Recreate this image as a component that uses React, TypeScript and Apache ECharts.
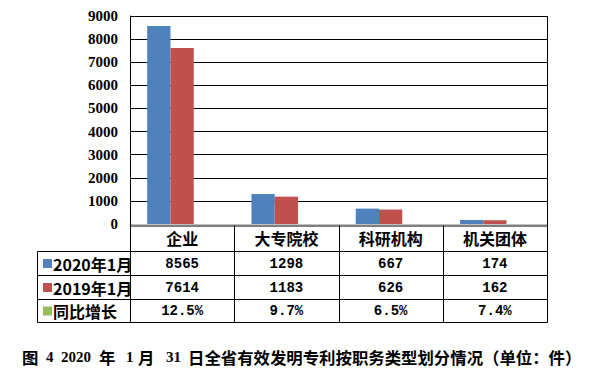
import React, { useEffect, useRef } from "react";
import * as echarts from "echarts";

const categories = ["企业", "大专院校", "科研机构", "机关团体"];
const seriesNames = ["2020年1月", "2019年1月", "同比增长"];
const values2020 = [8565, 1298, 667, 174];
const values2019 = [7614, 1183, 626, 162];
const growthPct = [12.5, 9.7, 6.5, 7.4];
const colors = ["#4F81BD", "#C0504D", "#9BBB59"];
const yMin = 0;
const yMax = 9000;
const yInterval = 1000;

const W = 591;
const H = 376;
const GL = 130;
const GR = 547;
const GT = 16;
const GB = 224;
const TABLE_LEFT = 37;
const ROW_LINES = [251, 275, 299, 322];
const HEADER_TOP = 225.5;

const CJK = '"Noto Sans CJK SC", "Noto Sans", sans-serif';
const MONO = '"Liberation Mono", "Noto Sans CJK SC", monospace';
const SERIF = '"Liberation Serif", "Times New Roman", serif';

function px(v: number) {
  return Math.round(v) + 0.5;
}

export default function App() {
  const ref = useRef<HTMLDivElement>(null);
  useEffect(() => {
    if (!ref.current) return;
    const chart = echarts.init(ref.current, null, { renderer: "svg" });
    const colW = (GR - GL) / categories.length;
    const colEdges = categories.map((_, i) => GL + i * colW).concat([GR]);
    const rowsData: (number | string)[][] = [
      values2020,
      values2019,
      growthPct.map((v) => v.toFixed(1) + "%"),
    ];
    const line = (x1: number, y1: number, x2: number, y2: number) => ({
      type: "line",
      silent: true,
      z: 100,
      shape: { x1, y1, x2, y2 },
      style: { stroke: "#000", lineWidth: 1 },
    });
    const graphics: any[] = [];
    graphics.push(line(px(GL), GT, px(GL), ROW_LINES[3] + 0.5));
    graphics.push(line(px(GR), GT, px(GR), ROW_LINES[3] + 0.5));
    for (let i = 1; i < colEdges.length - 1; i++) {
      graphics.push(line(px(colEdges[i]), HEADER_TOP, px(colEdges[i]), ROW_LINES[3] + 0.5));
    }
    graphics.push(line(px(TABLE_LEFT), px(ROW_LINES[0]), px(TABLE_LEFT), px(ROW_LINES[3])));
    graphics.push(line(px(GL), HEADER_TOP + 0.5, px(GR), HEADER_TOP + 0.5));
    ROW_LINES.forEach((y) => graphics.push(line(px(TABLE_LEFT), px(y), px(GR), px(y))));
    for (let r = 0; r < 3; r++) {
      const cy = (ROW_LINES[r] + ROW_LINES[r + 1]) / 2 + 0.5;
      graphics.push({
        type: "rect",
        silent: true,
        shape: { x: 43, y: cy - 4.5, width: 9, height: 9 },
        style: { fill: colors[r] },
      });
      graphics.push({
        type: "text",
        silent: true,
        x: 53,
        y: cy,
        style: {
          text: seriesNames[r],
          font: `bold 16px ${CJK}`,
          fill: "#000",
          align: "left",
          verticalAlign: "middle",
        },
      });
      categories.forEach((_, c) => {
        graphics.push({
          type: "text",
          silent: true,
          x: (colEdges[c] + colEdges[c + 1]) / 2,
          y: cy,
          style: {
            text: String(rowsData[r][c]),
            font: `bold 14px ${MONO}`,
            fill: "#000",
            align: "center",
            verticalAlign: "middle",
          },
        });
      });
    }
    const capY = 357;
    const capPieces: [string, number, string][] = [
      ["图", 22, CJK],
      ["4", 46, SERIF],
      ["2020", 61, SERIF],
      ["年", 99, CJK],
      ["1", 126, SERIF],
      ["月", 138, CJK],
      ["31", 166, SERIF],
      ["日全省有效发明专利按职务类型划分情况（单位：件）", 188, CJK],
    ];
    capPieces.forEach(([t, x, f]) => {
      graphics.push({
        type: "text",
        silent: true,
        x,
        y: capY,
        style: {
          text: t,
          font: `bold ${f === SERIF ? 15 : 16.4}px ${f}`,
          fill: "#000",
          align: "left",
          verticalAlign: "middle",
        },
      });
    });

    chart.setOption({
      animation: false,
      grid: { left: GL, right: W - GR, top: GT, bottom: H - GB },
      xAxis: {
        type: "category",
        data: categories,
        axisLine: { show: true, lineStyle: { color: "#BFBFBF", width: 1 } },
        axisTick: { show: false },
        axisLabel: {
          margin: 6,
          fontSize: 16,
          fontWeight: "bold",
          fontFamily: CJK,
          color: "#000",
          lineHeight: 16,
        },
      },
      yAxis: {
        type: "value",
        min: yMin,
        max: yMax,
        interval: yInterval,
        axisLine: { show: true, lineStyle: { color: "#000", width: 1 } },
        axisTick: { show: false },
        splitLine: { show: true, lineStyle: { color: "#000", width: 1 } },
        axisLabel: {
          margin: 12,
          fontSize: 15,
          fontWeight: "bold",
          fontFamily: SERIF,
          color: "#000",
          formatter: (v: number) => String(v),
        },
      },
      series: [
        {
          name: seriesNames[0],
          type: "bar",
          data: values2020,
          barGap: "0%",
          barCategoryGap: "33%",
          itemStyle: { color: colors[0] },
        },
        {
          name: seriesNames[1],
          type: "bar",
          data: values2019,
          barGap: "0%",
          barCategoryGap: "33%",
          itemStyle: { color: colors[1] },
        },
        {
          name: seriesNames[2],
          type: "bar",
          data: growthPct.map((v) => v / 100),
          barGap: "0%",
          barCategoryGap: "33%",
          itemStyle: { color: colors[2] },
        },
      ],
      graphic: graphics,
    });
    return () => chart.dispose();
  }, []);
  return (
    <div
      ref={ref}
      style={{ position: "fixed", left: 0, top: 0, width: W, height: H, background: "#fff" }}
    />
  );
}
